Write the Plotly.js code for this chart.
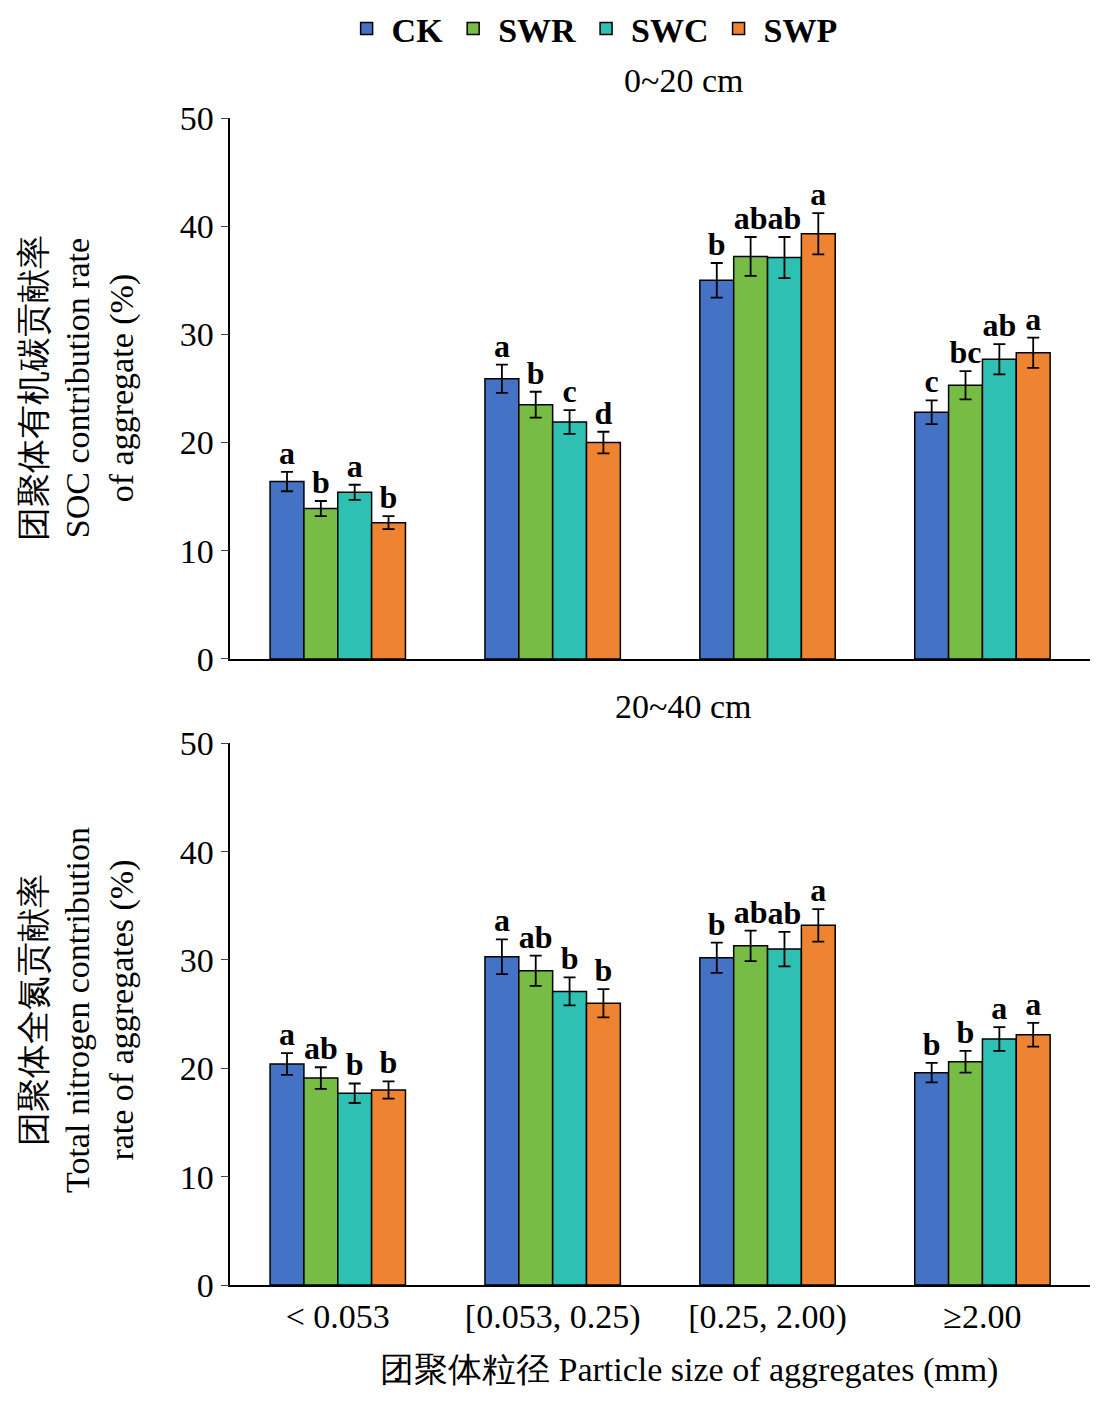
<!DOCTYPE html>
<html><head><meta charset="utf-8">
<script src="https://cdn.plot.ly/plotly-3.0.1.min.js"></script>
<style>body{margin:0}</style></head>
<body><div id="plot" style="width:1102px;height:1405px"></div>
<script>
var categories = ['< 0.053', '[0.053, 0.25)', '[0.25, 2.00)', '≥2.00'];
var seriesNames = ['CK', 'SWR', 'SWC', 'SWP'];
var colors = ['#4472C4', '#77BC45', '#2EC0B2', '#EE8432'];

// 0~20 cm SOC contribution
var socVals = [[16.4, 25.9, 35.0, 22.8], [13.9, 23.5, 37.2, 25.3], [15.4, 21.9, 37.1, 27.7], [12.6, 20.0, 39.3, 28.3]];
var socErr = [[0.9, 1.3, 1.6, 1.1], [0.7, 1.2, 1.8, 1.3], [0.7, 1.1, 1.9, 1.4], [0.6, 1.0, 1.9, 1.4]];
var socLetters = [['a', 'a', 'b', 'c'], ['b', 'b', 'ab', 'bc'], ['a', 'c', 'ab', 'ab'], ['b', 'd', 'a', 'a']];

// 20~40 cm total nitrogen contribution
var tnVals = [[20.4, 30.3, 30.2, 19.6], [19.1, 29.0, 31.3, 20.6], [17.7, 27.1, 31.0, 22.7], [18.0, 26.0, 33.2, 23.1]];
var tnErr = [[1.0, 1.6, 1.4, 0.9], [1.0, 1.4, 1.4, 1.0], [0.9, 1.3, 1.6, 1.1], [0.8, 1.3, 1.5, 1.1]];
var tnLetters = [['a', 'a', 'b', 'b'], ['ab', 'ab', 'ab', 'b'], ['b', 'b', 'ab', 'a'], ['b', 'b', 'a', 'a']];

var serif = 'Liberation Serif, Times New Roman, serif';
var traces = [];
function addPanel(vals, errs, letters, xa, ya, showLeg) {
    for (var i = 0; i < 4; i++) {
        traces.push({
            type: 'bar', x: categories, y: vals[i], name: seriesNames[i],
            xaxis: xa, yaxis: ya, offsetgroup: String(i), legendgroup: seriesNames[i], showlegend: showLeg,
            marker: {color: colors[i], line: {color: '#000', width: 1.5}},
            error_y: {type: 'data', array: errs[i], color: '#000', thickness: 1.8, width: 6}
        });
        traces.push({
            type: 'scatter', mode: 'text', x: categories,
            y: vals[i].map(function (v, j) { return v + errs[i][j]; }),
            text: letters[i], textposition: 'top center', showlegend: false,
            xaxis: xa, yaxis: ya, offsetgroup: String(i), hoverinfo: 'skip',
            textfont: {family: serif, size: 32, color: '#000', weight: 'bold'}
        });
    }
}
addPanel(socVals, socErr, socLetters, 'x', 'y', true);
addPanel(tnVals, tnErr, tnLetters, 'x2', 'y2', false);

var yax = {range: [0, 50], dtick: 10, ticks: 'outside', ticklen: 8, showgrid: false, zeroline: false,
    showline: true, linecolor: '#000', linewidth: 1.5, tickfont: {family: serif, size: 34, color: '#000'}};
var xax = {showline: true, linecolor: '#000', linewidth: 1.5, ticks: '', showgrid: false,
    tickfont: {family: serif, size: 34, color: '#000'}};

var tfont = {family: serif, size: 34, color: '#000'};
var layout = {
    width: 1102, height: 1405,
    margin: {l: 0, r: 0, t: 0, b: 0},
    paper_bgcolor: '#fff', plot_bgcolor: '#fff',
    barmode: 'group', scattermode: 'group', bargap: 0.37, bargroupgap: 0,
    xaxis: Object.assign({}, xax, {domain: [0.209, 0.989], anchor: 'y', showticklabels: false}),
    yaxis: Object.assign({}, yax, {domain: [0.531, 0.916], anchor: 'x'}),
    xaxis2: Object.assign({}, xax, {domain: [0.209, 0.989], anchor: 'y2'}),
    yaxis2: Object.assign({}, yax, {domain: [0.0854, 0.471], anchor: 'x2'}),
    legend: {orientation: 'h', x: 0.31, y: 1.0, yanchor: 'top', itemwidth: 40,
        font: {family: serif, size: 34, color: '#000', weight: 'bold'}},
    annotations: [
        {text: '0~20 cm', x: 0.62, y: 1 - 80 / 1405, xref: 'paper', yref: 'paper', xanchor: 'center', yanchor: 'middle', showarrow: false, font: tfont},
        {text: '20~40 cm', x: 0.62, y: 1 - 706 / 1405, xref: 'paper', yref: 'paper', xanchor: 'center', yanchor: 'middle', showarrow: false, font: tfont},
        {text: '团聚体粒径 Particle size of aggregates (mm)', x: 0.625, y: 1 - 1370 / 1405, xref: 'paper', yref: 'paper', xanchor: 'center', yanchor: 'middle', showarrow: false, font: tfont},
        {text: '团聚体有机碳贡献率<br>SOC contribution rate<br>of aggregate (%)', x: 78 / 1102, y: 1 - 388 / 1405, xref: 'paper', yref: 'paper', xanchor: 'center', yanchor: 'middle', textangle: -90, showarrow: false, font: tfont},
        {text: '团聚体全氮贡献率<br>Total nitrogen contribution<br>rate of aggregates (%)', x: 78 / 1102, y: 1 - 1010 / 1405, xref: 'paper', yref: 'paper', xanchor: 'center', yanchor: 'middle', textangle: -90, showarrow: false, font: tfont}
    ]
};
Plotly.newPlot('plot', traces, layout, {displayModeBar: false});
</script></body></html>
